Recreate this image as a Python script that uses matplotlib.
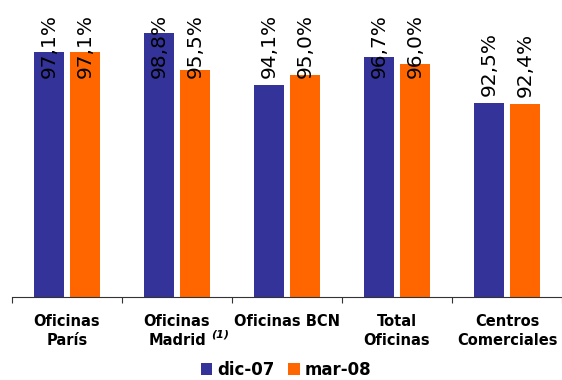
import numpy as np
import matplotlib.pyplot as plt
import matplotlib.transforms as mtransforms

# data
categorias = ['Oficinas\nParís', 'Oficinas\nMadrid', 'Oficinas BCN', 'Total\nOficinas', 'Centros\nComerciales']
dic07 = [97.1, 98.8, 94.1, 96.7, 92.5]
mar08 = [97.1, 95.5, 95.0, 96.0, 92.4]
series = ['dic-07', 'mar-08']
kleuren = ['#333399', '#FF6600']

fig = plt.figure(figsize=(5.62, 3.80), dpi=100)
ax = fig.add_axes([12 / 562, 1 - 297 / 380, 550 / 562, 277 / 380])

x = np.arange(len(categorias))
w = 0.2727
off = 0.1636
bars1 = ax.bar(x - off, dic07, w, color=kleuren[0], label=series[0], zorder=2)
bars2 = ax.bar(x + off, mar08, w, color=kleuren[1], label=series[1], zorder=2)

ax.set_ylim(75, 100)
ax.set_xlim(-0.5, len(categorias) - 0.5)

# labels boven de balken (begrensd aan de bovenkant)
for xs, vals in ((x - off, dic07), (x + off, mar08)):
    for xi, v in zip(xs, vals):
        ypos = min(v + 0.65, 94.75)
        ax.text(xi, ypos, f'{v:.1f}%'.replace('.', ','), rotation=90,
                ha='center', va='bottom', fontsize=14.5, color='black',
                clip_on=False, zorder=3)

# assen opmaak
for s in ['left', 'right', 'top']:
    ax.spines[s].set_visible(False)
ax.spines['bottom'].set_color('#333333')
ax.set_yticks([])
ax.set_xticks(np.arange(-0.5, len(categorias)), minor=False)
ax.set_xticklabels([])
ax.tick_params(axis='x', which='major', length=4, color='#333333', direction='out')
ax.set_xticks(x, minor=True)
ax.set_xticklabels(categorias, minor=True, fontsize=10.5, fontweight='bold',
                   linespacing=1.35)
ax.tick_params(axis='x', which='minor', length=0, pad=12)

# voetnoot bij Madrid
trans = mtransforms.blended_transform_factory(ax.transData, ax.transAxes)
ax.text(1.31, -0.137, '(1)', transform=trans, fontsize=8, fontweight='bold',
        fontstyle='italic', ha='left', va='center')

# legenda
fig.legend(loc='center', bbox_to_anchor=(286 / 562, 1 - 370 / 380), ncol=2,
           frameon=False, prop={'weight': 'bold', 'size': 12},
           handlelength=0.7, handleheight=0.7, handletextpad=0.3,
           columnspacing=0.8, borderpad=0)

plt.savefig('out.png', dpi=100)
